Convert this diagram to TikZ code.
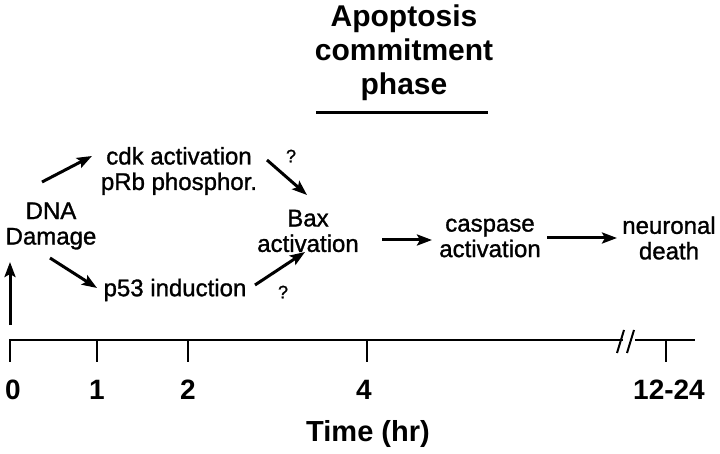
\documentclass[tikz,border=0pt]{standalone}
\usepackage{fontspec}
\setmainfont{Liberation Sans}
\newfontfamily\lblfont[FakeBold=1.2]{Liberation Sans}
\usetikzlibrary{arrows.meta}
\begin{document}
\begin{tikzpicture}[x=1pt,y=1pt,
  lbl/.style={inner sep=0pt,align=center,font=\lblfont\fontsize{24}{25.5}\selectfont},
  ttl/.style={inner sep=0pt,align=center,font=\bfseries\fontsize{30}{34}\selectfont},
  num/.style={inner sep=0pt,font=\bfseries\fontsize{28}{29}\selectfont},
  qm/.style={inner sep=0pt,font=\lblfont\fontsize{18}{19}\selectfont},
  arr/.style={line width=3pt,-{Stealth[length=15pt,width=11pt,inset=3pt]}},
  axisline/.style={line width=2.6pt},
  tickline/.style={line width=2pt}]
\useasboundingbox (0,0) rectangle (720,453);
% title
\node[ttl] (title) at (404,400) {Apoptosis\\commitment\\phase};
\coordinate (ul1) at (316,340);
\coordinate (ul2) at (488,340);
\draw[line width=3pt] (ul1) -- (ul2);
% nodes
\node[lbl] (dna) at (51,227) {DNA\\Damage};
\node[lbl] (cdk) at (179,282) {cdk activation\\pRb phosphor.};
\node[lbl] (bax) at (308,222) {Bax\\activation};
\node[lbl] (p53) at (175,163) {p53 induction};
\node[lbl] (casp) at (490,215) {caspase\\activation};
\node[lbl] (death) at (669,215) {neuronal\\death};
\node[qm] (q1) at (291,297) {?};
\node[qm] (q2) at (283,161) {?};
% arrows
\draw[arr] ([shift={(-9,44)}]dna.center) -- ([shift={(-87,15)}]cdk.center);
\draw[arr] ([shift={(88,11)}]cdk.center) -- ([shift={(-1,36)}]bax.center);
\draw[arr] ([shift={(-1,-32)}]dna.center) -- ([shift={(-78,2)}]p53.center);
\draw[arr] ([shift={(80,5)}]p53.center) -- ([shift={(-3,-21)}]bax.center);
\draw[arr] ([shift={(74,-9)}]bax.center) -- ([shift={(-58,-2)}]casp.center);
\draw[arr] ([shift={(57,0)}]casp.center) -- ([shift={(-52,0)}]death.center);
% time axis
\coordinate (a0) at (10,113);
\coordinate (abreakL) at (623,113);
\coordinate (abreakR) at (635,113);
\coordinate (aend) at (695,113);
\coordinate (up0) at (10,128);
\draw[arr] (up0) -- ([shift={(-41,-36)}]dna.center);
\draw[axisline] (a0) -- (abreakL);
\draw[axisline] (abreakR) -- (aend);
\coordinate (s1a) at (617,100);
\coordinate (s1b) at (624,123);
\coordinate (s2a) at (627,100);
\coordinate (s2b) at (634,123);
\draw[tickline] (s1a) -- (s1b);
\draw[tickline] (s2a) -- (s2b);
\foreach \x/\n in {10/t0,97/t1,188/t2,367/t4,666/t12}{
  \coordinate (\n a) at (\x,114);
  \coordinate (\n b) at (\x,91);
  \draw[tickline] (\n a) -- (\n b);
}
\node[num] (n0) at (13,63) {0};
\node[num] (n1) at (97,63) {1};
\node[num] (n2) at (188,63) {2};
\node[num] (n4) at (364,63) {4};
\node[num] (n12) at (669,63) {12-24};
\node[inner sep=0pt,font=\bfseries\fontsize{29}{30}\selectfont] (time) at (368,19) {Time (hr)};
\end{tikzpicture}
\end{document}
